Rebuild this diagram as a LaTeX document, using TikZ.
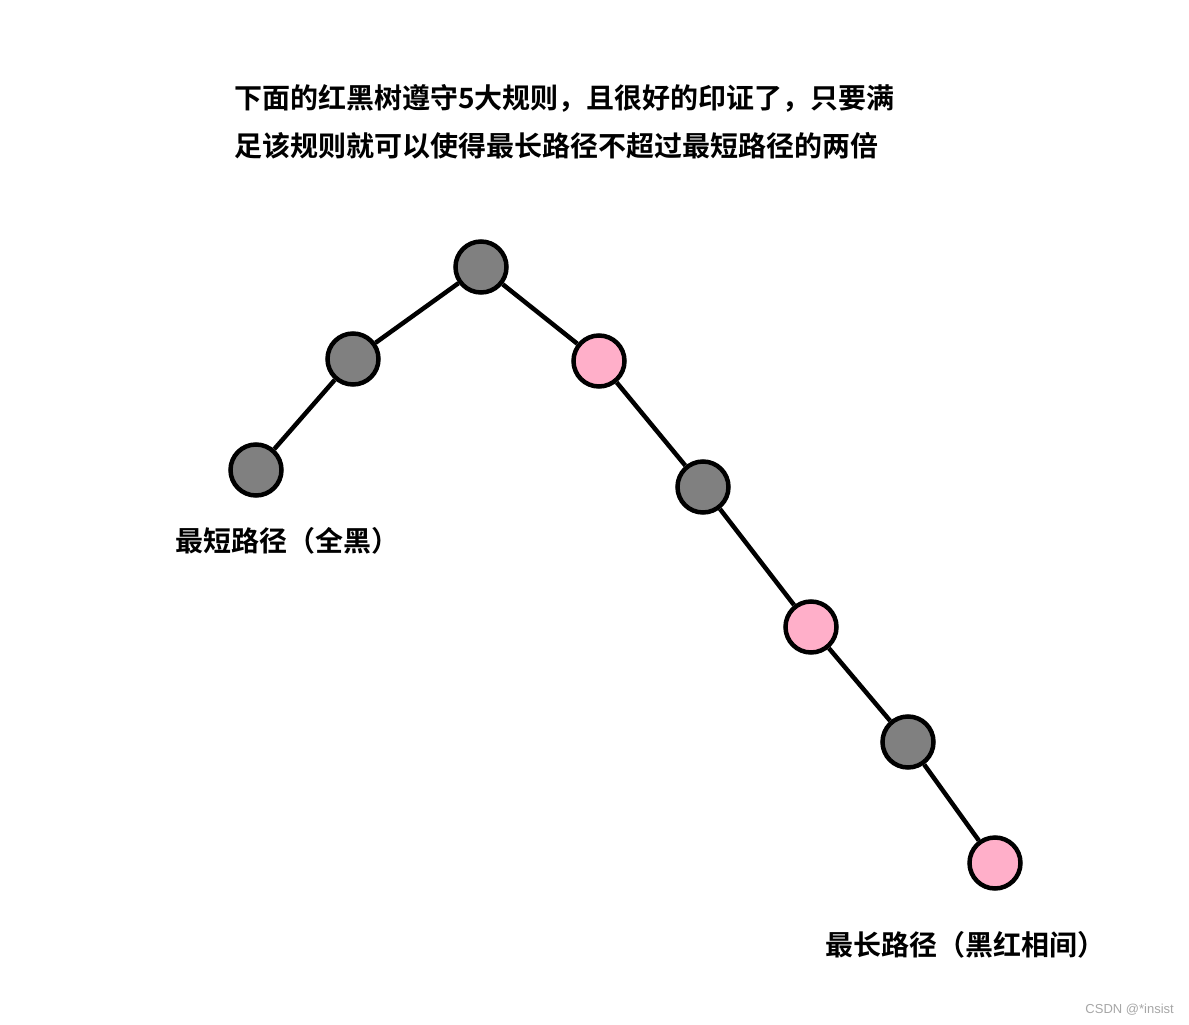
\documentclass[tikz,border=0pt]{standalone}
\usepackage{fontspec}
\usepackage{xcolor}
\newfontfamily\cjkbold{Noto Sans CJK SC Bold}
\setmainfont{Liberation Sans}
\definecolor{blacknode}{HTML}{808080}
\definecolor{rednode}{HTML}{FFAFC9}

\begin{document}
\begin{tikzpicture}[
    x=1pt, y=-1pt,
    blk/.style={circle, draw, line width=4.5pt, fill=blacknode, minimum size=51pt, inner sep=0pt},
    red/.style={circle, draw, line width=4.5pt, fill=rednode, minimum size=51pt, inner sep=0pt},
    edge/.style={line width=4.5pt},
    note/.style={anchor=west, inner sep=0pt, font=\cjkbold\fontsize{28}{28}\selectfont}
]
\useasboundingbox (0,0) rectangle (1189,1025);

% Title
\node[note] (title1) at (234,98) {下面的红黑树遵守5大规则，且很好的印证了，只要满};
\node[note] (title2) at (234,146) {足该规则就可以使得最长路径不超过最短路径的两倍};

% Tree
\node[blk] (root) at (481,267) {};
\node[blk] (l1) at (353,359) {};
\node[blk] (l2) at (256,470) {};
\node[red] (r1) at (599,361) {};
\node[blk] (r2) at (703,487) {};
\node[red] (r3) at (811,627) {};
\node[blk] (r4) at (908,742) {};
\node[red] (r5) at (995,863) {};

% Edges
\draw[edge] (root) -- (l1);
\draw[edge] (l1) -- (l2);
\draw[edge] (root) -- (r1);
\draw[edge] (r1) -- (r2);
\draw[edge] (r2) -- (r3);
\draw[edge] (r3) -- (r4);
\draw[edge] (r4) -- (r5);

% Labels
\node[note] (short) at (175,541) {最短路径（全黑）};
\node[note] (long) at (825,945) {最长路径（黑红相间）};

% Watermark
\node[anchor=east, inner sep=0pt, text=gray!70, font=\fontsize{13}{13}\selectfont] (mark) at (1174,1010) {CSDN @*insist};
\end{tikzpicture}
\end{document}
